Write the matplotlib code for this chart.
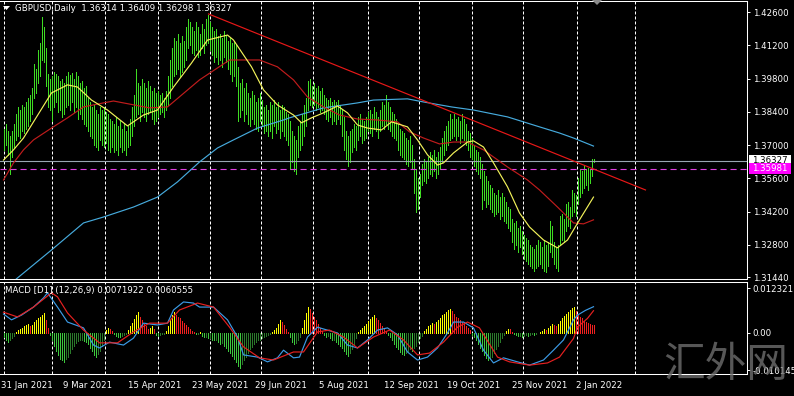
import matplotlib
matplotlib.use("Agg")
import matplotlib.pyplot as plt
import numpy as np
from matplotlib.patches import Polygon, Rectangle

plt.rcParams['font.family'] = ['DejaVu Sans']

# ---------------- data ----------------
symbol_title = "GBPUSD,Daily  1.36314 1.36409 1.36298 1.36327"
macd_title = "MACD [D1] (12,26,9) 0.0071922 0.0060555"

highs = [
    1.3770, 1.3790, 1.3760, 1.3740, 1.3760, 1.3790, 1.3830, 1.3860, 1.3850, 1.3870,
    1.3860, 1.3880, 1.3900, 1.3910, 1.3940, 1.4040, 1.4020, 1.4100, 1.4130, 1.4240,
    1.4200, 1.4110, 1.4000, 1.3980, 1.3990, 1.4010, 1.4000, 1.3990, 1.3970, 1.3980,
    1.3960, 1.3990, 1.4010, 1.3995, 1.4005, 1.3980, 1.4010, 1.3990, 1.3960, 1.3970,
    1.3940, 1.3950, 1.3900, 1.3880, 1.3860, 1.3870, 1.3850, 1.3830, 1.3860, 1.3850,
    1.3860, 1.3840, 1.3830, 1.3810, 1.3800, 1.3790, 1.3820, 1.3780, 1.3800, 1.3770,
    1.3790, 1.3760, 1.3780, 1.3810, 1.3860, 1.3910, 1.4020, 1.3960, 1.3950, 1.3980,
    1.3960, 1.3940, 1.3970, 1.3950, 1.3930, 1.3940, 1.3920, 1.3930, 1.3910, 1.3920,
    1.3900, 1.3930, 1.3990, 1.4060, 1.4110, 1.4150, 1.4140, 1.4170, 1.4130, 1.4160,
    1.4140, 1.4200, 1.4230, 1.4220, 1.4200, 1.4180, 1.4220, 1.4200, 1.4170, 1.4210,
    1.4190, 1.4230, 1.4250, 1.4220, 1.4200, 1.4180, 1.4190, 1.4160, 1.4170, 1.4150,
    1.4180, 1.4160, 1.4140, 1.4150, 1.4130, 1.4140, 1.4120, 1.4030, 1.3960, 1.3980,
    1.3940, 1.3960, 1.3920, 1.3900, 1.3930, 1.3910, 1.3880, 1.3900, 1.3920, 1.3890,
    1.3860, 1.3870, 1.3850, 1.3880, 1.3870, 1.3890, 1.3860, 1.3880, 1.3850, 1.3870,
    1.3860, 1.3840, 1.3830, 1.3800, 1.3760, 1.3740, 1.3720, 1.3780, 1.3800, 1.3830,
    1.3870, 1.3900, 1.3970, 1.3980, 1.3950, 1.3960, 1.3940, 1.3950, 1.3930, 1.3940,
    1.3910, 1.3900, 1.3890, 1.3900, 1.3880, 1.3890, 1.3880, 1.3890, 1.3870, 1.3850,
    1.3820, 1.3760, 1.3740, 1.3760, 1.3770, 1.3790, 1.3780, 1.3820, 1.3830, 1.3810,
    1.3800, 1.3820, 1.3840, 1.3850, 1.3830, 1.3860, 1.3840, 1.3820, 1.3850, 1.3880,
    1.3870, 1.3910, 1.3880, 1.3860, 1.3840, 1.3830, 1.3810, 1.3790, 1.3770, 1.3760,
    1.3750, 1.3730, 1.3720, 1.3740, 1.3700, 1.3640, 1.3600, 1.3560, 1.3580, 1.3620,
    1.3640, 1.3630, 1.3650, 1.3670, 1.3660, 1.3680, 1.3650, 1.3670, 1.3690, 1.3730,
    1.3760, 1.3780, 1.3800, 1.3830, 1.3810, 1.3830, 1.3810, 1.3820, 1.3800, 1.3830,
    1.3810, 1.3790, 1.3760, 1.3750, 1.3730, 1.3700, 1.3680, 1.3670, 1.3650, 1.3620,
    1.3590, 1.3570, 1.3550, 1.3530, 1.3520, 1.3500, 1.3490, 1.3510, 1.3480, 1.3500,
    1.3480, 1.3460, 1.3440, 1.3430, 1.3390, 1.3370, 1.3380, 1.3350, 1.3360, 1.3340,
    1.3320, 1.3310, 1.3300, 1.3280, 1.3270, 1.3260, 1.3280, 1.3300, 1.3290, 1.3270,
    1.3300, 1.3280, 1.3290, 1.3380, 1.3360, 1.3290, 1.3270, 1.3280, 1.3400, 1.3410,
    1.3390, 1.3450, 1.3460, 1.3440, 1.3510, 1.3500, 1.3490, 1.3560, 1.3600, 1.3590,
    1.3610, 1.3600, 1.3605, 1.3600, 1.3640, 1.36409,
]

lows = [
    1.3680, 1.3700, 1.3660, 1.3580, 1.3650, 1.3690, 1.3720, 1.3740, 1.3730, 1.3760,
    1.3750, 1.3770, 1.3780, 1.3800, 1.3830, 1.3900, 1.3920, 1.3960, 1.3990, 1.4060,
    1.4050, 1.3950, 1.3860, 1.3850, 1.3800, 1.3860, 1.3880, 1.3840, 1.3850, 1.3820,
    1.3830, 1.3860, 1.3870, 1.3850, 1.3880, 1.3840, 1.3860, 1.3810, 1.3830, 1.3810,
    1.3790, 1.3780, 1.3760, 1.3740, 1.3730, 1.3700, 1.3690, 1.3680, 1.3720, 1.3700,
    1.3690, 1.3710, 1.3680, 1.3670, 1.3690, 1.3670, 1.3680, 1.3660, 1.3690, 1.3670,
    1.3680, 1.3660, 1.3690, 1.3700, 1.3740, 1.3780, 1.3820, 1.3830, 1.3800, 1.3840,
    1.3820, 1.3800, 1.3830, 1.3840, 1.3810, 1.3790, 1.3800, 1.3820, 1.3830, 1.3840,
    1.3820, 1.3850, 1.3870, 1.3900, 1.3950, 1.3990, 1.4000, 1.4020, 1.3990, 1.4010,
    1.4030, 1.4060, 1.4110, 1.4120, 1.4090, 1.4080, 1.4100, 1.4070, 1.4080, 1.4110,
    1.4090, 1.4120, 1.4130, 1.4100, 1.4080, 1.4050, 1.4070, 1.4040, 1.4060, 1.4030,
    1.4070, 1.4050, 1.4020, 1.4000, 1.3970, 1.3990, 1.3950, 1.3800, 1.3820, 1.3850,
    1.3800, 1.3830, 1.3790, 1.3780, 1.3810, 1.3790, 1.3770, 1.3760, 1.3800, 1.3780,
    1.3750, 1.3760, 1.3740, 1.3760, 1.3730, 1.3780, 1.3750, 1.3770, 1.3730, 1.3760,
    1.3740, 1.3720, 1.3700, 1.3600, 1.3630, 1.3590, 1.3580, 1.3650, 1.3680, 1.3700,
    1.3740, 1.3780, 1.3850, 1.3870, 1.3860, 1.3870, 1.3850, 1.3860, 1.3840, 1.3850,
    1.3830, 1.3810, 1.3800, 1.3820, 1.3790, 1.3800, 1.3790, 1.3810, 1.3790, 1.3740,
    1.3680, 1.3640, 1.3610, 1.3630, 1.3670, 1.3690, 1.3680, 1.3720, 1.3740, 1.3710,
    1.3720, 1.3730, 1.3760, 1.3750, 1.3740, 1.3770, 1.3760, 1.3730, 1.3760, 1.3780,
    1.3770, 1.3790, 1.3770, 1.3760, 1.3740, 1.3730, 1.3720, 1.3680, 1.3660, 1.3650,
    1.3640, 1.3620, 1.3610, 1.3630, 1.3600, 1.3500, 1.3420, 1.3430, 1.3480, 1.3530,
    1.3550, 1.3540, 1.3560, 1.3580, 1.3570, 1.3590, 1.3560, 1.3580, 1.3600, 1.3630,
    1.3660, 1.3680, 1.3700, 1.3720, 1.3730, 1.3740, 1.3720, 1.3740, 1.3710, 1.3730,
    1.3720, 1.3700, 1.3680, 1.3650, 1.3640, 1.3610, 1.3590, 1.3580, 1.3560, 1.3430,
    1.3470, 1.3440, 1.3450, 1.3430, 1.3420, 1.3400, 1.3410, 1.3420, 1.3390, 1.3400,
    1.3380, 1.3370, 1.3350, 1.3340, 1.3290, 1.3260, 1.3280, 1.3250, 1.3270, 1.3240,
    1.3220, 1.3210, 1.3200, 1.3190, 1.3180, 1.3170, 1.3180, 1.3190, 1.3200, 1.3180,
    1.3170, 1.3165, 1.3190, 1.3250, 1.3230, 1.3200, 1.3180, 1.3170, 1.3280, 1.3300,
    1.3290, 1.3340, 1.3360, 1.3350, 1.3400, 1.3420, 1.3400, 1.3450, 1.3480, 1.3500,
    1.3520, 1.3530, 1.3510, 1.3540, 1.3570, 1.36298,
]

# moving averages read at selected bars (bar index, price)
ma_fast_idx = [0, 5, 10, 15, 24, 32, 37, 44, 52, 62, 70, 77, 85, 94, 102, 112, 115, 124, 130,
               137, 145, 149, 154, 160, 167, 172, 177, 182, 189, 194, 202, 207, 212, 217, 220,
               225, 232, 235, 240, 245, 252, 258, 263, 270, 277, 282, 288, 295]
ma_fast_val = [1.3637, 1.3680, 1.3730, 1.3798, 1.3920, 1.3954, 1.3945, 1.3890, 1.3848, 1.3781,
               1.3827, 1.3848, 1.3945, 1.4046, 1.4143, 1.4164, 1.4143, 1.4030, 1.3933, 1.3869,
               1.3827, 1.3794, 1.3815, 1.3836, 1.3865, 1.3836, 1.3785, 1.3772, 1.3764, 1.3798,
               1.3777, 1.3722, 1.3659, 1.3616, 1.3625, 1.3667, 1.3713, 1.3718, 1.3692, 1.3625,
               1.3524, 1.3414, 1.3355, 1.3300, 1.3267, 1.3300, 1.3385, 1.3481]

ma_mid_idx = [0, 5, 10, 15, 24, 32, 40, 50, 55, 73, 82, 98, 113, 128, 137, 145, 152, 160, 168,
              177, 187, 197, 203, 210, 218, 225, 232, 240, 252, 262, 268, 277, 285, 290, 295]
ma_mid_val = [1.3553, 1.3625, 1.3680, 1.3722, 1.3772, 1.3815, 1.3861, 1.3878, 1.3886, 1.3857,
              1.3861, 1.3975, 1.4059, 1.4059, 1.4030, 1.3975, 1.3903, 1.3861, 1.3827, 1.3810,
              1.3806, 1.3798, 1.3756, 1.3730, 1.3705, 1.3713, 1.3713, 1.3680, 1.3608, 1.3553,
              1.3511, 1.3439, 1.3372, 1.3368, 1.3385]

ma_slow_idx = [0, 7, 24, 40, 50, 65, 77, 87, 98, 107, 115, 127, 140, 143, 160, 177, 185, 202,
               210, 224, 235, 252, 268, 278, 285, 295]
ma_slow_val = [1.3090, 1.3140, 1.3258, 1.3372, 1.3397, 1.3439, 1.3481, 1.3545, 1.3629, 1.3688,
               1.3722, 1.3772, 1.3806, 1.3815, 1.3857, 1.3878, 1.3890, 1.3895, 1.3882, 1.3861,
               1.3848, 1.3819, 1.3777, 1.3751, 1.3730, 1.3696]

trend_idx = [102.5, 321.0]
trend_val = [1.4253, 1.3511]

last_price = 1.36327
alert_price = 1.35981

price_ticks = [1.42600, 1.41200, 1.39800, 1.38400, 1.37000, 1.35600, 1.34200, 1.32800, 1.31440]
macd_ticks = [0.0123211, 0.0, -0.010145]
macd_tick_labels = ["0.0123211", "0.00", "-0.010145"]

macd_hist = [
    -0.0010, -0.0020, -0.0025, -0.0020, -0.0015, -0.0008,
    0.0003, 0.0008, 0.0012, 0.0015, 0.0018, 0.0022, 0.0025, 0.0020, 0.0023, 0.0030,
    0.0035, 0.0040, 0.0045, 0.0050, 0.0055,
    0.0035, 0.0015,
    -0.0005, -0.0020, -0.0035, -0.0050, -0.0060, -0.0070, -0.0075, -0.0079, -0.0072, -0.0065,
    -0.0055, -0.0045, -0.0035, -0.0028, -0.0022,
    -0.0020, -0.0018, -0.0022, -0.0025, -0.0030,
    -0.0040, -0.0050, -0.0060, -0.0065, -0.0058, -0.0048, -0.0035, -0.0020,
    0.0008, 0.0015, 0.0012,
    0.0005, -0.0003,
    -0.0008, -0.0010, -0.0012, -0.0009, -0.0006, -0.0003,
    0.0008, 0.0018, 0.0028, 0.0038, 0.0048, 0.0057,
    0.0045, 0.0035, 0.0025, 0.0018, 0.0012,
    0.0015, 0.0020, 0.0010,
    -0.0005, -0.0008, -0.0006, -0.0004, -0.0002, 0.0005,
    0.0020, 0.0035, 0.0048, 0.0057,
    0.0050, 0.0045, 0.0040, 0.0034, 0.0028, 0.0022, 0.0016, 0.0010, 0.0005,
    0.0002, -0.0003, -0.0002, 0.0002,
    -0.0008, -0.0012, -0.0010, -0.0015, -0.0013, -0.0018, -0.0020, -0.0018, -0.0025, -0.0030,
    -0.0028, -0.0035, -0.0040, -0.0048, -0.0055, -0.0062,
    -0.0070, -0.0080, -0.0090, -0.0096, -0.0085, -0.0075, -0.0065, -0.0055, -0.0045, -0.0038,
    -0.0030,
    -0.0025, -0.0020, -0.0018, -0.0015, -0.0012, -0.0008, -0.0005,
    -0.0003, 0.0002, 0.0008,
    0.0015, 0.0025, 0.0036, 0.0030, 0.0022,
    0.0012, 0.0004,
    -0.0012, -0.0025, -0.0030, -0.0028, -0.0020, -0.0010,
    0.0015, 0.0035, 0.0055, 0.0072,
    0.0065, 0.0055, 0.0045, 0.0035, 0.0025, 0.0015, 0.0006,
    -0.0005, -0.0010, -0.0008, -0.0015, -0.0020, -0.0018, -0.0025, -0.0030, -0.0035, -0.0042,
    -0.0050, -0.0058, -0.0062, -0.0055, -0.0045, -0.0030, -0.0015,
    0.0003, 0.0008, 0.0015, 0.0020, 0.0026, 0.0032, 0.0038, 0.0044, 0.0049,
    0.0042, 0.0035, 0.0028, 0.0020, 0.0012, 0.0005,
    -0.0005, -0.0012, -0.0020, -0.0030, -0.0038, -0.0045, -0.0052, -0.0058, -0.0060, -0.0055,
    -0.0050, -0.0045, -0.0050, -0.0042, -0.0035, -0.0025, -0.0015, -0.0008,
    0.0005, 0.0012, 0.0018, 0.0022, 0.0028, 0.0025, 0.0030, 0.0036, 0.0042, 0.0048,
    0.0052, 0.0058, 0.0063, 0.0067,
    0.0060, 0.0052, 0.0045, 0.0040, 0.0035, 0.0030, 0.0025, 0.0020, 0.0014, 0.0008,
    -0.0005, -0.0012, -0.0020, -0.0030, -0.0040, -0.0050, -0.0060, -0.0068, -0.0074, -0.0072,
    -0.0065, -0.0055, -0.0045, -0.0035, -0.0025, -0.0015, -0.0005,
    0.0006, 0.0012, 0.0010, 0.0004,
    -0.0003, -0.0006, -0.0009, -0.0008, -0.0010, -0.0007, -0.0005, -0.0008, -0.0006, -0.0004,
    -0.0005, -0.0003, -0.0001,
    0.0003, 0.0006, 0.0010, 0.0008, 0.0014, 0.0020, 0.0025, 0.0022, 0.0018, 0.0026,
    0.0033, 0.0040, 0.0046, 0.0052, 0.0058, 0.0063, 0.0068, 0.0072,
    0.0060, 0.0050, 0.0044, 0.0040, 0.0033, 0.0030, 0.0028, 0.0025, 0.0023, 0.0022,
]

macd_main_idx = [0, 4, 9, 15, 20, 22, 27, 32, 40, 45, 48, 53, 60, 65, 70, 77, 82, 85, 90, 95,
                 98, 105, 112, 117, 120, 127, 132, 137, 140, 145, 148, 152, 157, 160, 167, 172,
                 177, 182, 187, 192, 197, 202, 207, 212, 217, 222, 225, 230, 235, 240, 245, 250,
                 257, 263, 270, 275, 280, 285, 287, 291, 295]
macd_main_val = [0.0052, 0.0036, 0.0049, 0.0071, 0.0096, 0.0110, 0.0071, 0.0030, 0.0014, -0.0033,
                 -0.0041, -0.0025, -0.0033, -0.0014, 0.0027, 0.0022, 0.0027, 0.0063, 0.0085, 0.0082,
                 0.0071, 0.0071, 0.0036, -0.0011, -0.0060, -0.0066, -0.0079, -0.0068, -0.0047, -0.0068,
                 -0.0066, -0.0011, 0.0016, 0.0011, 0.0000, -0.0033,
                 -0.0041, -0.0019, 0.0008, 0.0014, -0.0005, -0.0052, -0.0074, -0.0066, -0.0041, 0.0000,
                 0.0030, 0.0030, 0.0014, -0.0047, -0.0082, -0.0068,
                 -0.0079, -0.0088, -0.0074, -0.0047, -0.0019, 0.0036, 0.0049, 0.0062, 0.0072]

macd_signal_idx = [0, 7, 15, 24, 27, 32, 40, 48, 57, 65, 73, 82, 88, 97, 105, 113, 120, 128, 135,
                   145, 150, 157, 163, 170, 177, 185, 193, 200, 207, 213, 220, 227, 232, 238, 247,
                   253, 263, 272, 278, 285, 287, 292, 295]
macd_signal_val = [0.0057, 0.0044, 0.0071, 0.0110, 0.0099, 0.0055, 0.0008, -0.0027, -0.0027, 0.0003,
                   0.0027, 0.0027, 0.0063, 0.0082, 0.0071, 0.0016, -0.0038, -0.0068, -0.0074,
                   -0.0052, -0.0052, 0.0003, 0.0008, -0.0011, -0.0041, -0.0011, 0.0008, -0.0019,
                   -0.0060, -0.0055, -0.0025, 0.0016, 0.0030, 0.0014, -0.0066,
                   -0.0079, -0.0088, -0.0082, -0.0066, -0.0015, 0.0016, 0.0040, 0.0061]

date_labels = ["31 Jan 2021", "9 Mar 2021", "15 Apr 2021", "23 May 2021", "29 Jun 2021",
               "5 Aug 2021", "12 Sep 2021", "19 Oct 2021", "25 Nov 2021", "2 Jan 2022"]

watermark = "汇外网"

# ---------------- layout / style ----------------
W, H = 794, 396
PANEL_R = 747
date_px = [1, 63, 128, 192, 255, 319, 384, 447, 512, 576]
grid_px = [3, 51, 104, 157, 209, 260, 312, 367, 418, 471, 522, 576, 634]

BAR_GREEN = '#3EDC22'
FS = 6.2

fig = plt.figure(figsize=(W / 100, H / 100), dpi=100, facecolor='black')


def fx(px):
    return px / W


def fy(py):
    return 1 - py / H


ax = fig.add_axes([0, fy(279), fx(PANEL_R), 278 / H])
axm = fig.add_axes([0, fy(374), fx(PANEL_R), 92 / H])

idx = np.arange(len(highs))
assert len(lows) == len(highs) == len(macd_hist)

for a in (ax, axm):
    a.set_facecolor('black')
    a.set_xlim(-1.75, 371.75)
    for s in ('top', 'bottom', 'right'):
        a.spines[s].set_color('white')
        a.spines[s].set_linewidth(0.75)
    a.spines['left'].set_visible(False)
    a.tick_params(axis='x', bottom=False, labelbottom=False)
    a.tick_params(axis='y', left=False, labelleft=False, right=True, labelright=True,
                  direction='out', length=2.5, width=0.7, color='white',
                  labelcolor='white', labelsize=FS, pad=1.5)
    for gp in grid_px:
        a.axvline((gp - 3) / 2, color='white', lw=0.72, dashes=(3, 2), zorder=0.5)

# main panel
ax.set_ylim(1.31356, 1.43076)
ax.set_yticks(price_ticks)
ax.set_yticklabels(['%.5f' % v for v in price_ticks])

ax.vlines(idx, lows, highs, colors=BAR_GREEN, lw=0.5, antialiased=False, zorder=2)
ax.plot(ma_slow_idx, ma_slow_val, color='#46AADC', lw=0.85, zorder=3)
ax.plot(ma_mid_idx, ma_mid_val, color='#C01C1C', lw=0.85, zorder=3)
ax.plot(ma_fast_idx, ma_fast_val, color='#F2F25A', lw=0.85, zorder=3)
ax.plot(trend_idx, trend_val, color='#E81818', lw=0.85, zorder=3)
ax.axhline(last_price, color='#9AA6B2', lw=0.8, zorder=2.5)
ax.axhline(alert_price, color='#E040E0', lw=0.8, dashes=(5.5, 3.5), zorder=2.5)

# MACD panel
axm.set_ylim(-0.011227, 0.013965)
axm.set_yticks(macd_ticks)
axm.set_yticklabels(macd_tick_labels)
hist = np.array(macd_hist)
prev = np.concatenate([[hist[0]], hist[:-1]])
cols = []
for h, p in zip(hist, prev):
    if h >= 0:
        cols.append('#FFFF00' if h >= p else '#F02020')
    else:
        cols.append('#3CC83C' if h <= p else '#2A7A2A')
axm.vlines(idx, 0, hist, colors=cols, lw=0.5, antialiased=False, zorder=2)
axm.plot(macd_main_idx, macd_main_val, color='#3C9BE6', lw=0.85, zorder=3)
axm.plot(macd_signal_idx, macd_signal_val, color='#E62020', lw=0.85, zorder=3)

# texts
fig.text(fx(15), fy(8.5), symbol_title, color='white', fontsize=FS, va='center', ha='left')
fig.add_artist(Polygon([[fx(3), fy(6)], [fx(10), fy(6)], [fx(6.5), fy(10)]],
                       closed=True, transform=fig.transFigure, facecolor='white',
                       edgecolor='none'))
fig.text(fx(5), fy(290), macd_title, color='white', fontsize=FS, va='center', ha='left')

for lbl, px in zip(date_labels, date_px):
    fig.text(fx(px), fy(385), lbl, color='white', fontsize=FS, va='center', ha='left')

# price labels on axis
fig.add_artist(Rectangle((fx(749), fy(166)), fx(42), 11 / H, transform=fig.transFigure,
                         facecolor='white', edgecolor='none', zorder=10))
fig.text(fx(752), fy(160.5), '%.5f' % last_price, color='black', fontsize=FS,
         va='center', ha='left', zorder=11)
fig.add_artist(Rectangle((fx(749), fy(173.5)), fx(42), 10 / H, transform=fig.transFigure,
                         facecolor='#FF00FF', edgecolor='none', zorder=12))
fig.text(fx(752), fy(168.5), '%.5f' % alert_price, color='white', fontsize=FS,
         va='center', ha='left', zorder=13)

# chart-shift marker
fig.add_artist(Polygon([[fx(592), fy(0)], [fx(602), fy(0)], [fx(597), fy(5)]],
                       closed=True, transform=fig.transFigure, facecolor='#8A8A8A',
                       edgecolor='none', zorder=10))

# watermark
fig.text(fx(663), fy(366), watermark, color='#6E6E6E', fontsize=30, alpha=0.8,
         family=['Noto Sans CJK SC', 'DejaVu Sans'], va='center', ha='left', zorder=20)

fig.savefig('out.png', dpi=100, facecolor='black')
